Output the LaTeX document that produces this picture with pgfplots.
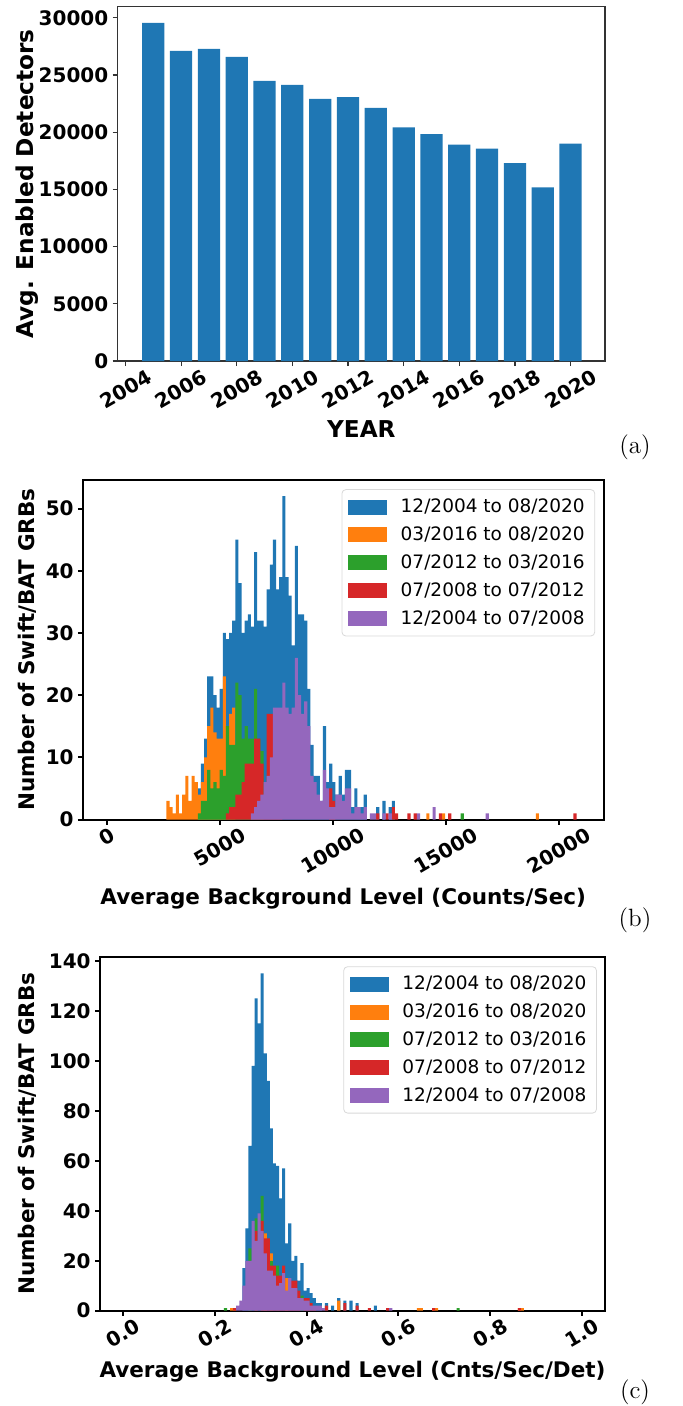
\documentclass[border=0pt]{standalone}
\usepackage{pgfplots}
\pgfplotsset{compat=1.18}
\usepackage{fontspec}
\newfontfamily\dejavu{DejaVu Sans}
\definecolor{cB}{HTML}{1F77B4}
\definecolor{cO}{HTML}{FF7F0E}
\definecolor{cG}{HTML}{2CA02C}
\definecolor{cR}{HTML}{D62728}
\definecolor{cP}{HTML}{9467BD}

\pgfplotsset{
  common/.style={
    scale only axis,
    scaled ticks=false,
    axis line style={line width=1pt},
    tick style={line width=1pt, black},
    tick align=outside, major tick length=2.5pt, tick pos=left,
    /pgf/number format/assume math mode=true,
    /pgf/number format/1000 sep={},
    ticklabel style={font=\dejavu\bfseries\fontsize{10}{12}\selectfont},
    xticklabel={\rotatebox{30}{\pgfmathprintnumber{\tick}}},
    xticklabel style={anchor=north, inner sep=1pt},
    yticklabel style={inner sep=2pt},
  },
  histlegend/.style={
    legend style={at={(rel axis cs:0.984,0.973)}, anchor=north east,
      draw=black!15, rounded corners=2pt, fill=white,
      font=\dejavu\fontsize{9.25}{11}\selectfont,
      inner xsep=3pt, inner ysep=2.5pt, row sep=1.6pt,
      /tikz/every odd column/.append style={column sep=5pt},
      /tikz/every even column/.append style={column sep=0pt}},
    legend cell align=left,
  },
  hb/.style={ybar, bar width=138.5, bar shift=0pt, draw=none, forget plot},
  hc/.style={ybar, bar width=0.0066667, bar shift=0pt, draw=none, forget plot},
}
\newcommand{\legpatch}[1]{\addlegendimage{legend image code/.code={\fill[#1, sharp corners] (0pt,-3.5pt) rectangle (19pt,3.5pt);}}}

\begin{document}
\begin{tikzpicture}
\useasboundingbox (0,0) rectangle (341.5pt,-703pt);

% ---------------- (a) ----------------
\begin{axis}[common,
  at={(58.85pt,-3.35pt)}, anchor=north west,
  width=243.65pt, height=177.15pt,
  axis line style={line width=0.6pt, black!80},
  tick style={line width=0.6pt, black!80},
  xmin=2003.72, xmax=2021.24, ymin=0, ymax=30975,
  xtick={2004,2006,...,2020}, ytick={0,5000,...,30000},
  xlabel={YEAR}, ylabel={Avg. Enabled Detectors},
  xlabel style={at={(axis description cs:0.5,-0.191)}, anchor=center, font=\dejavu\bfseries\fontsize{11.6}{13}\selectfont},
  ylabel style={at={(axis description cs:-0.186,0.5)}, anchor=center, font=\dejavu\bfseries\fontsize{11.6}{13}\selectfont},
]
\addplot[ybar, bar width=0.8, bar shift=0pt, fill=cB, draw=none] coordinates {
(2005,29560) (2006,27110) (2007,27290) (2008,26590) (2009,24480) (2010,24130)
(2011,22910) (2012,23080) (2013,22120) (2014,20430) (2015,19840) (2016,18910)
(2017,18560) (2018,17300) (2019,15180) (2020,19000)};
\end{axis}
\node[font=\fontsize{12.5}{14}\selectfont] at (317.5pt,-223.5pt) {(a)};

% ---------------- (b) ----------------
\begin{axis}[common, histlegend,
  at={(41.5pt,-240pt)}, anchor=north west,
  width=260.25pt, height=169.75pt,
  xmin=-1062, xmax=21970, ymin=0, ymax=54.6,
  xtick={0,5000,...,20000}, ytick={0,10,...,50},
  xlabel={Average Background Level (Counts/Sec)},
  ylabel={Number of Swift/BAT GRBs},
  xlabel style={at={(axis description cs:0.5,-0.234)}, anchor=center, font=\dejavu\bfseries\fontsize{10.75}{13}\selectfont},
  ylabel style={at={(axis description cs:-0.1076,0.5)}, anchor=center, font=\dejavu\bfseries\fontsize{10.75}{13}\selectfont},
]
\addplot[hb, fill=cB] table[x expr=(\thisrow{k}+0.5)*138.5, y=n] {
k n
29 5
30 9
31 13
32 23
33 23
34 20
35 18
36 21
37 30
38 29
39 30
40 32
41 45
42 38
43 30
44 32
45 33
46 31
47 43
48 32
49 32
50 31
51 37
52 41
53 45
54 37
55 39
56 52
57 39
58 36
59 28
60 44
61 33
62 33
63 32
64 21
65 12
66 7
67 7
68 3
69 15
70 6
71 9
72 6
73 4
74 7
75 4
76 8
77 8
78 2
79 5
80 2
81 2
82 4
86 2
88 3
90 2
91 3
};
\addplot[hb, fill=cO] table[x expr=(\thisrow{k}+0.5)*138.5, y=n] {
k n
19 3
20 2
21 1
22 4
23 1
24 4
25 7
26 3
27 7
28 6
29 4
30 6
31 10
32 15
33 18
34 14
35 13
36 13
37 23
38 7
39 17
40 18
102 1
107 1
137 1
};
\addplot[hb, fill=cG] table[x expr=(\thisrow{k}+0.5)*138.5, y=n] {
k n
29 1
30 3
31 3
32 8
33 5
34 6
35 5
36 8
37 7
38 15
39 12
40 12
41 22
42 20
43 13
44 15
45 13
46 13
47 21
48 13
49 11
113 1
};
\addplot[hb, fill=cR] table[x expr=(\thisrow{k}+0.5)*138.5, y=n] {
k n
38 1
39 2
40 2
41 4
42 4
43 6
44 9
45 9
46 9
47 13
48 13
49 9
50 4
51 17
52 17
53 17
54 15
55 12
71 5
72 3
86 1
89 1
91 2
92 1
96 1
98 1
106 1
109 1
149 1
};
\addplot[hb, fill=cP] table[x expr=(\thisrow{k}+0.5)*138.5, y=n] {
k n
46 1
47 2
48 3
49 4
50 6
51 7
52 10
53 18
54 18
55 18
56 22
57 18
58 17
59 18
60 26
61 20
62 17
63 19
64 15
65 7
66 6
67 4
68 3
69 8
70 5
71 2
72 2
73 4
74 4
75 3
76 5
77 5
78 1
79 2
80 2
81 1
82 2
84 1
85 1
88 1
90 1
99 1
104 2
121 1
};
\legpatch{cB}\addlegendentry{12/2004 to 08/2020}
\legpatch{cO}\addlegendentry{03/2016 to 08/2020}
\legpatch{cG}\addlegendentry{07/2012 to 03/2016}
\legpatch{cR}\addlegendentry{07/2008 to 07/2012}
\legpatch{cP}\addlegendentry{12/2004 to 07/2008}
\end{axis}
\node[font=\fontsize{12.5}{14}\selectfont] at (317.5pt,-460pt) {(b)};

% ---------------- (c) ----------------
\begin{axis}[common, histlegend,
  at={(50pt,-478.35pt)}, anchor=north west,
  width=252.5pt, height=177pt,
  xmin=-0.05, xmax=1.05, ymin=0, ymax=141.7,
  xtick={0,0.2,...,1.0}, ytick={0,20,...,140},
  x tick label style={/pgf/number format/.cd, fixed, fixed zerofill, precision=1},
  xlabel={Average Background Level (Cnts/Sec/Det)},
  ylabel={Number of Swift/BAT GRBs},
  xlabel style={at={(axis description cs:0.5,-0.173)}, anchor=center, font=\dejavu\bfseries\fontsize{10.75}{13}\selectfont},
  ylabel style={at={(axis description cs:-0.1446,0.5)}, anchor=center, font=\dejavu\bfseries\fontsize{10.75}{13}\selectfont},
]
\addplot[hc, fill=cB] table[x expr=(\thisrow{k}+0.5)/150, y=n] {
k n
39 17
40 33
41 66
42 98
43 125
44 115
45 135
46 103
47 92
48 73
49 59
50 58
51 45
52 57
53 27
54 35
55 20
56 22
57 12
58 19
59 8
60 9
61 7
62 5
63 3
64 3
66 3
68 2
70 5
72 4
74 4
76 3
82 2
};
\addplot[hc, fill=cO] table[x expr=(\thisrow{k}+0.5)/150, y=n] {
k n
35 1
36 1
46 31
48 23
53 13
70 4
96 1
97 1
101 1
102 1
129 1
130 1
};
\addplot[hc, fill=cG] table[x expr=(\thisrow{k}+0.5)/150, y=n] {
k n
33 1
41 25
43 37
45 46
48 20
50 18
58 6
109 1
};
\addplot[hc, fill=cR] table[x expr=(\thisrow{k}+0.5)/150, y=n] {
k n
36 1
43 32
45 36
46 29
47 29
48 18
49 18
50 14
51 14
52 18
53 7
54 12
55 12
56 12
57 8
59 5
60 5
61 3
62 1
66 2
72 3
76 2
80 1
86 1
101 1
129 1
};
\addplot[hc, fill=cP] table[x expr=(\thisrow{k}+0.5)/150, y=n] {
k n
37 2
38 4
39 10
40 20
41 20
42 36
43 28
44 39
45 32
46 23
47 16
48 16
49 14
50 10
51 11
52 15
53 8
54 13
55 9
56 9
57 5
58 5
59 4
60 4
61 2
62 2
63 2
64 2
65 1
87 1
};
\legpatch{cB}\addlegendentry{12/2004 to 08/2020}
\legpatch{cO}\addlegendentry{03/2016 to 08/2020}
\legpatch{cG}\addlegendentry{07/2012 to 03/2016}
\legpatch{cR}\addlegendentry{07/2008 to 07/2012}
\legpatch{cP}\addlegendentry{12/2004 to 07/2008}
\end{axis}
\node[font=\fontsize{12.5}{14}\selectfont] at (317.5pt,-696pt) {(c)};
\end{tikzpicture}
\end{document}
